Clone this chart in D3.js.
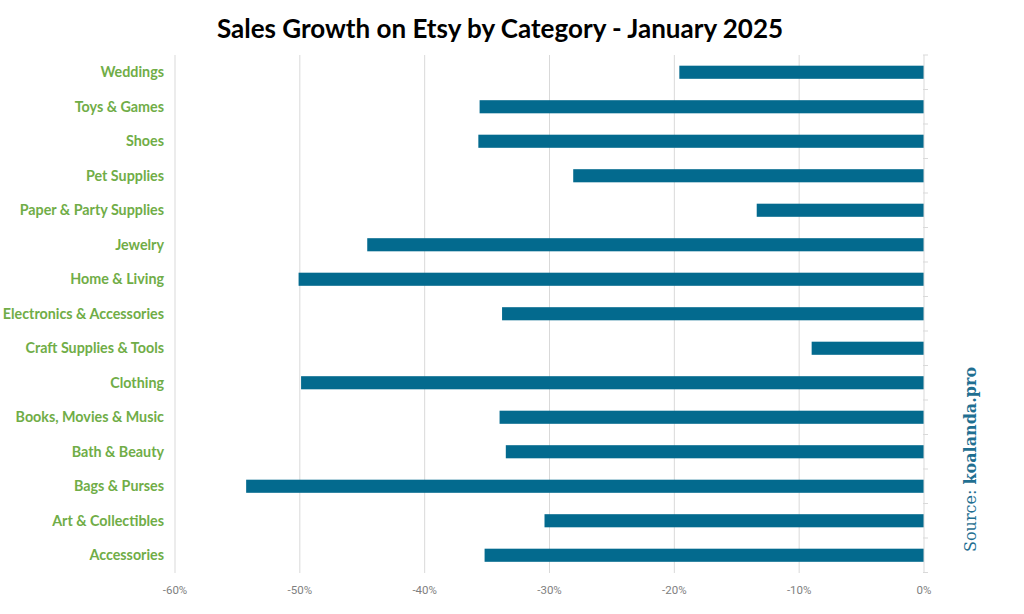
<!DOCTYPE html>
<html><head><meta charset="utf-8">
<script src="https://cdn.jsdelivr.net/npm/d3@7"></script>
<style>body{margin:0;background:#fff;}svg{display:block;}</style>
</head><body>
<svg id="c" width="1024" height="614"></svg>
<script>
const categories = ["Weddings","Toys & Games","Shoes","Pet Supplies","Paper & Party Supplies","Jewelry","Home & Living","Electronics & Accessories","Craft Supplies & Tools","Clothing","Books, Movies & Music","Bath & Beauty","Bags & Purses","Art & Collectibles","Accessories"];
const growth = [-19.6,-35.6,-35.7,-28.1,-13.4,-44.6,-50.1,-33.8,-9.0,-49.9,-34.0,-33.5,-54.3,-30.4,-35.2];
const tickValues = [-60,-50,-40,-30,-20,-10,0];
const title = "Sales Growth on Etsy by Category - January 2025";

const svg = d3.select("#c");
const x = d3.scaleLinear().domain([-60,0]).range([175,924]);
const y = d3.scaleBand().domain(categories).range([55,572.5]).paddingInner(0.62).paddingOuter(0.31);
const yb = d3.scaleBand().domain(categories).range([55,572.5]);

// gridlines
svg.append("g").selectAll("line").data(tickValues.filter(d=>d!==0)).join("line")
  .attr("x1",d=>x(d)).attr("x2",d=>x(d)).attr("y1",55).attr("y2",573)
  .attr("stroke","#d9d9d9").attr("stroke-width",1);

// bars
svg.append("g").selectAll("rect").data(categories).join("rect")
  .attr("x",(d,i)=>x(growth[i])).attr("width",(d,i)=>x(0)-x(growth[i]))
  .attr("y",d=>y(d)).attr("height",y.bandwidth())
  .attr("fill","#036a8e");

// zero axis with ticks
const ax = svg.append("g");
ax.append("line").attr("x1",x(0)).attr("x2",x(0)).attr("y1",55).attr("y2",573).attr("stroke","#d9d9d9");
ax.selectAll("line.t").data(d3.range(16)).join("line").attr("class","t")
  .attr("x1",x(0)-1).attr("x2",x(0)+4)
  .attr("y1",i=>55+i*yb.step()).attr("y2",i=>55+i*yb.step())
  .attr("stroke","#d9d9d9");

// x tick labels
svg.append("g").selectAll("text").data(tickValues).join("text")
  .attr("x",d=>x(d)).attr("y",594).attr("text-anchor","middle")
  .attr("font-family","Liberation Sans Narrow, Roboto, sans-serif").attr("font-size",11.5)
  .attr("fill","#7f7f7f").text(d=>d+"%");

// category labels
svg.append("g").selectAll("text").data(categories).join("text")
  .attr("x",164).attr("y",d=>yb(d)+yb.bandwidth()/2).attr("dy","0.35em")
  .attr("text-anchor","end").attr("font-family","Lato, sans-serif").attr("font-weight","bold")
  .attr("font-size",14.3).attr("fill","#70ad47").text(d=>d);

// title
svg.append("text").attr("x",500).attr("y",38).attr("text-anchor","middle")
  .attr("font-family","Lato, sans-serif").attr("font-weight","bold").attr("font-size",26)
  .attr("fill","#000").text(title);

// source
const src = svg.append("text").attr("transform","translate(976,552) rotate(-90)")
  .attr("font-family","DejaVu Serif, serif").attr("font-size",16).attr("fill","#1f6f91");
src.append("tspan").text("Source: ");
src.append("tspan").attr("font-weight","bold").text("koalanda.pro");
</script>
</body></html>
